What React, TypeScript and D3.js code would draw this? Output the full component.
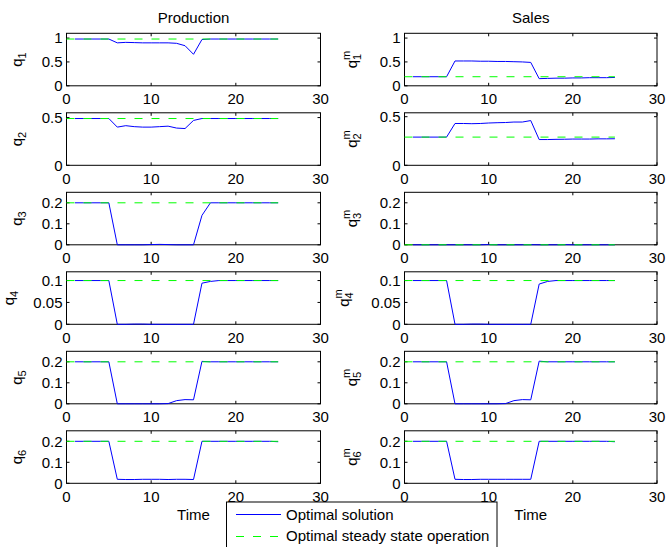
import React from 'react';
import * as d3 from 'd3';

// ---------- data ----------
const time = [1, 2, 3, 4, 5, 6, 7, 8, 9, 10, 11, 12, 13, 14, 15, 16, 17, 18, 19, 20, 21, 22, 23, 24, 25];
const steadyTime = [0, 25];
const xTicks = [0, 10, 20, 30];

const q1 = [0.98, 0.98, 0.98, 0.98, 0.98, 0.90, 0.91, 0.905, 0.90, 0.90, 0.90, 0.90, 0.89, 0.84, 0.66, 0.97, 0.98, 0.98, 0.98, 0.98, 0.98, 0.98, 0.98, 0.98, 0.98];
const q2 = [0.49, 0.49, 0.49, 0.49, 0.49, 0.40, 0.415, 0.405, 0.40, 0.40, 0.405, 0.41, 0.39, 0.385, 0.47, 0.49, 0.49, 0.49, 0.49, 0.49, 0.49, 0.49, 0.49, 0.49, 0.49];
const q3 = [0.2, 0.2, 0.2, 0.2, 0.2, 0, 0, 0, 0, 0.001, 0.002, 0.001, 0, 0, 0, 0.14, 0.2, 0.2, 0.2, 0.2, 0.2, 0.2, 0.2, 0.2, 0.2];
const q4 = [0.1, 0.1, 0.1, 0.1, 0.1, 0, 0, 0.0005, 0.0005, 0, 0, 0, 0, 0, 0, 0.094, 0.098, 0.1, 0.1, 0.1, 0.1, 0.1, 0.1, 0.1, 0.1];
const q5 = [0.2, 0.2, 0.2, 0.2, 0.2, 0, 0, 0, 0, 0, 0, 0.001, 0.015, 0.02, 0.019, 0.202, 0.2, 0.2, 0.2, 0.2, 0.2, 0.2, 0.2, 0.2, 0.2];
const q6 = [0.2, 0.2, 0.2, 0.2, 0.2, 0.019, 0.018, 0.018, 0.019, 0.019, 0.019, 0.018, 0.019, 0.019, 0.018, 0.2, 0.2, 0.2, 0.2, 0.2, 0.2, 0.2, 0.2, 0.2, 0.198];

const q1m = [0.19, 0.19, 0.19, 0.19, 0.19, 0.52, 0.52, 0.52, 0.515, 0.515, 0.51, 0.51, 0.505, 0.50, 0.49, 0.15, 0.155, 0.16, 0.16, 0.165, 0.165, 0.17, 0.17, 0.17, 0.175];
const q2m = [0.29, 0.29, 0.29, 0.29, 0.29, 0.43, 0.43, 0.428, 0.43, 0.435, 0.438, 0.44, 0.445, 0.445, 0.46, 0.265, 0.265, 0.267, 0.268, 0.27, 0.27, 0.27, 0.272, 0.272, 0.273];
const q3m = [0, 0, 0, 0, 0, 0, 0, 0, 0, 0.001, 0, 0, 0, 0, 0.0005, 0, 0, 0, 0.0005, 0, 0, 0, 0, 0, 0];
const q4m = [0.1, 0.1, 0.1, 0.1, 0.1, 0, 0, 0.0005, 0.0005, 0, 0, 0, 0, 0, 0, 0.092, 0.098, 0.1, 0.1, 0.1, 0.1, 0.1, 0.1, 0.1, 0.1];
const q5m = [0.2, 0.2, 0.2, 0.2, 0.2, 0, 0, 0, 0, 0, 0, 0.001, 0.015, 0.02, 0.019, 0.203, 0.2, 0.2, 0.2, 0.2, 0.2, 0.2, 0.2, 0.2, 0.2];
const q6m = [0.2, 0.2, 0.2, 0.2, 0.2, 0.019, 0.018, 0.018, 0.019, 0.019, 0.019, 0.019, 0.019, 0.019, 0.019, 0.2, 0.2, 0.2, 0.2, 0.2, 0.2, 0.2, 0.2, 0.2, 0.198];

const productionSeries = [q1, q2, q3, q4, q5, q6];
const salesSeries = [q1m, q2m, q3m, q4m, q5m, q6m];
const productionSteady = [0.98, 0.49, 0.2, 0.1, 0.2, 0.2];
const salesSteady = [0.19, 0.29, 0, 0.1, 0.2, 0.2];
const productionYMax = [1.1, 0.55, 0.25, 0.12, 0.25, 0.25];
const salesYMax = [1.1, 0.54, 0.25, 0.12, 0.25, 0.25];
const yTicks = [[0, 0.5, 1], [0, 0.5], [0, 0.1, 0.2], [0, 0.05, 0.1], [0, 0.1, 0.2], [0, 0.1, 0.2]];
const subscripts = ['1', '2', '3', '4', '5', '6'];
const columnTitles = ['Production', 'Sales'];
const legendLabels = ['Optimal solution', 'Optimal steady state operation'];
const xLabel = 'Time';

// ---------- layout ----------
const W = 666;
const H = 547;
const FONT = '"Liberation Sans", Arial, Helvetica, sans-serif';
const FS = 15;
const cols = [
  { x0: 66.5, x1: 320.5, labelX: 22, labelX4: 14 },
  { x0: 404.5, x1: 657, labelX: 357, labelX4: 349 },
];
const TOP0 = 33.3;
const STEP = 79.5;
const PH = 52.5;
const TICK = 3;
const BLUE = '#0000ff';
const GREEN = '#00ff00';
const DASH = '8,9';

function Panel({ col, row, values, steady, yMax, sales }) {
  const c = cols[col];
  const top = TOP0 + STEP * row;
  const bottom = top + PH;
  const x = d3.scaleLinear().domain([0, 30]).range([c.x0, c.x1]);
  const y = d3.scaleLinear().domain([0, yMax]).range([bottom, top]);
  const line = d3.line<number>().x((d, i) => x(time[i])).y((d) => y(d));
  const steadyLine = d3.line<number>().x((d) => x(d)).y(() => y(steady));
  const ticks = yTicks[row];
  const lx = row === 3 ? c.labelX4 : c.labelX;
  const cy = (top + bottom) / 2;
  return (
    <g>
      <rect x={c.x0} y={top} width={c.x1 - c.x0} height={PH} fill="white" stroke="black" strokeWidth={1} />
      {xTicks.map((t) => (
        <g key={'xt' + t}>
          <line x1={x(t)} x2={x(t)} y1={bottom} y2={bottom - TICK} stroke="black" />
          <line x1={x(t)} x2={x(t)} y1={top} y2={top + TICK} stroke="black" />
          <text x={x(t)} y={bottom + 18.5} textAnchor="middle" fontSize={FS} fontFamily={FONT}>{String(t)}</text>
        </g>
      ))}
      {ticks.map((t) => (
        <g key={'yt' + t}>
          <line x1={c.x0} x2={c.x0 + TICK} y1={y(t)} y2={y(t)} stroke="black" />
          <line x1={c.x1} x2={c.x1 - TICK} y1={y(t)} y2={y(t)} stroke="black" />
          <text x={c.x0 - 4} y={y(t) + 5.3} textAnchor="end" fontSize={FS} fontFamily={FONT}>{String(t)}</text>
        </g>
      ))}
      <path d={line(values) || ''} fill="none" stroke={BLUE} strokeWidth={1} />
      <path d={steadyLine(steadyTime) || ''} fill="none" stroke={GREEN} strokeWidth={1} strokeDasharray={DASH} />
      <text transform={`translate(${lx},${cy}) rotate(-90)`} textAnchor="middle" fontSize={FS} fontFamily={FONT}>
        q
        {sales ? (
          <>
            <tspan fontSize={11} dy={-7}>m</tspan>
            <tspan fontSize={11} dx={-9.2} dy={11}>{subscripts[row]}</tspan>
          </>
        ) : (
          <tspan fontSize={11} dy={4}>{subscripts[row]}</tspan>
        )}
      </text>
    </g>
  );
}

export default function App() {
  return (
    <svg width={W} height={H} style={{ position: 'absolute', left: 0, top: 0, background: 'white' }}>
      <rect x={0} y={0} width={W} height={H} fill="white" />
      {columnTitles.map((t, i) => (
        <text key={t} x={(cols[i].x0 + cols[i].x1) / 2} y={23} textAnchor="middle" fontSize={FS} fontFamily={FONT}>{t}</text>
      ))}
      {productionSeries.map((s, r) => (
        <Panel key={'p' + r} col={0} row={r} values={s} steady={productionSteady[r]} yMax={productionYMax[r]} sales={false} />
      ))}
      {salesSeries.map((s, r) => (
        <Panel key={'s' + r} col={1} row={r} values={s} steady={salesSteady[r]} yMax={salesYMax[r]} sales={true} />
      ))}
      {cols.map((c, i) => (
        <text key={'xl' + i} x={(c.x0 + c.x1) / 2} y={520} textAnchor="middle" fontSize={FS} fontFamily={FONT}>{xLabel}</text>
      ))}
      <g>
        <rect x={226.5} y={502} width={270.5} height={60} fill="white" stroke="black" strokeWidth={1} />
        <line x1={236} x2={281} y1={514.5} y2={514.5} stroke={BLUE} strokeWidth={1} />
        <line x1={236} x2={281} y1={536.5} y2={536.5} stroke={GREEN} strokeWidth={1} strokeDasharray={DASH} />
        <text x={286} y={519.5} fontSize={FS} fontFamily={FONT}>{legendLabels[0]}</text>
        <text x={286} y={541} fontSize={FS} fontFamily={FONT}>{legendLabels[1]}</text>
      </g>
    </svg>
  );
}
